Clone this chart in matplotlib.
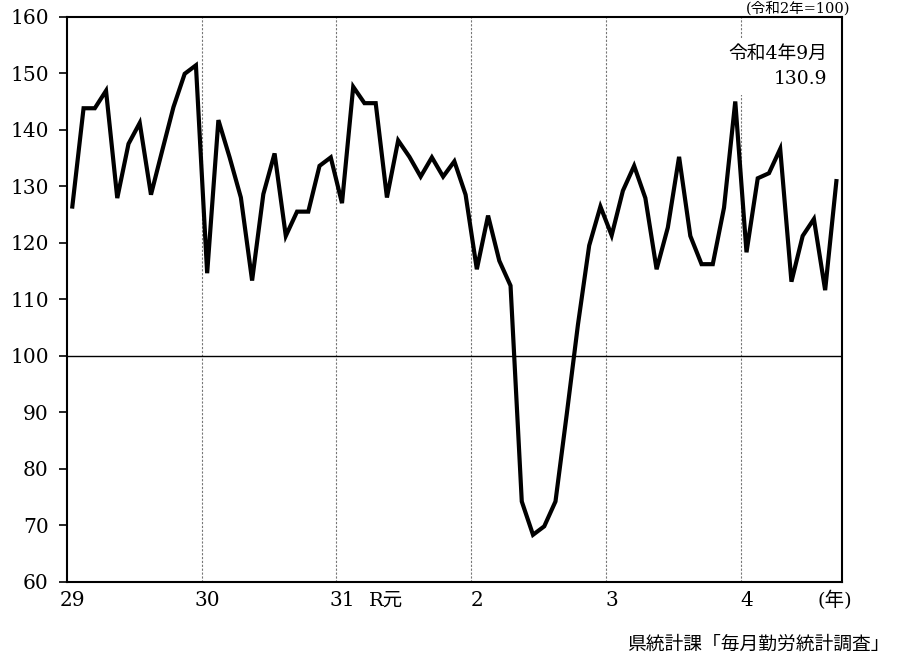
import matplotlib
matplotlib.use("Agg")
import matplotlib.pyplot as plt
import matplotlib.transforms as mtransforms

plt.rcParams['font.family'] = ['DejaVu Serif', 'Noto Sans CJK JP']

# monthly index, H29.1 - R4.9 (R2 = 100)
values = [126.4, 143.8, 143.8, 146.9, 127.9, 137.5, 141.2, 128.5, 136.3, 144.0, 149.9, 151.4,
          114.6, 141.7, 135.1, 128.0, 113.3, 128.6, 135.8, 121.2, 125.5, 125.5, 133.6, 135.1,
          127.0, 147.6, 144.7, 144.7, 128.0, 138.1, 135.2, 131.7, 135.1, 131.7, 134.4, 128.5,
          115.3, 124.8, 116.8, 112.4, 74.2, 68.3, 69.8, 74.2, 89.6, 105.5, 119.5, 126.4,
          121.3, 129.2, 133.6, 127.9, 115.3, 122.7, 135.2, 121.2, 116.2, 116.2, 126.2, 145.0,
          118.3, 131.4, 132.3, 136.6, 113.1, 121.2, 124.2, 111.6, 130.9]
year_labels = ['29', '30', '31', '2', '3', '4']
year_starts = [0, 12, 24, 36, 48, 60]
y_ticks = [60, 70, 80, 90, 100, 110, 120, 130, 140, 150, 160]

fig = plt.figure(figsize=(8.99, 6.61), dpi=100)
ax = fig.add_axes([0.0742, 0.120, 0.8624, 0.8547])

x = list(range(len(values)))

# year boundaries
for s in year_starts[1:]:
    ax.axvline(s - 0.5, color='#777777', linestyle=(0, (2, 1.5)), linewidth=0.8, zorder=1)
ax.axhline(100, color='black', linewidth=1.0, zorder=2)

ax.plot(x, values, color='black', linewidth=3.0, solid_joinstyle='miter', zorder=3)

ax.set_xlim(-0.5, len(values) - 0.5)
ax.set_ylim(60, 160)
ax.set_yticks(y_ticks)
ax.set_xticks(year_starts)
ax.set_xticklabels(year_labels)
ax.tick_params(axis='y', direction='out', length=6, width=1.2, labelsize=14.5, pad=7)
ax.tick_params(axis='x', length=0, labelsize=14.5, pad=7)
for sp in ax.spines.values():
    sp.set_linewidth(1.5)

trans = mtransforms.blended_transform_factory(ax.transData, ax.transAxes)
ax.text(27.9, -0.034, 'R元', transform=trans, ha='center', va='center', fontsize=14)
ax.text(67.9, -0.034, '(年)', transform=trans, ha='center', va='center', fontsize=14)

# latest value note
ax.text(67.2, 151.2, '令和4年9月\n130.9', ha='right', va='center', fontsize=13.5,
        multialignment='right', linespacing=1.45,
        bbox=dict(facecolor='white', edgecolor='none', pad=5), zorder=4)

fig.text(0.9455, 0.999, '(令和2年=100)', ha='right', va='top', fontsize=10.5)
fig.text(0.990, 0.024, '県統計課「毎月勤労統計調査」', ha='right', va='center', fontsize=13.5)

fig.savefig('out.png', dpi=100)
